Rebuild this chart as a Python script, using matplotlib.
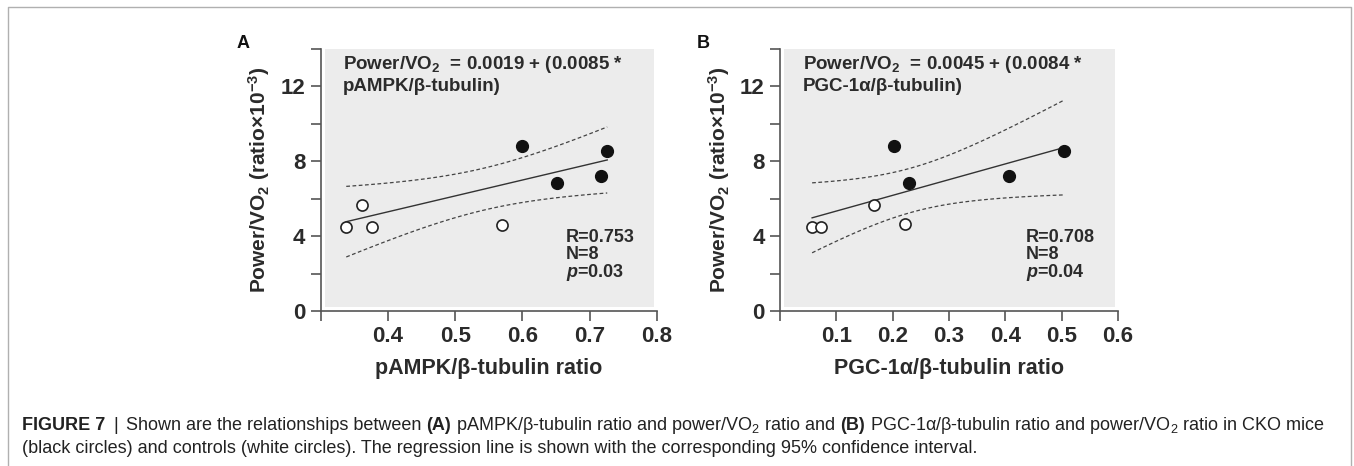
import numpy as np
import matplotlib
matplotlib.use("Agg")
import matplotlib.pyplot as plt
from matplotlib.patches import Rectangle
from matplotlib.lines import Line2D

plt.rcParams['font.family'] = ['Liberation Sans', 'DejaVu Sans']
plt.rcParams['mathtext.fontset'] = 'custom'
plt.rcParams['mathtext.rm'] = 'Liberation Sans'
plt.rcParams['mathtext.it'] = 'Liberation Sans:italic'
plt.rcParams['mathtext.bf'] = 'Liberation Sans:bold'
plt.rcParams['mathtext.bfit'] = 'Liberation Sans:italic:bold'

# panel A: pAMPK/beta-tubulin vs power/VO2 (ratio x 10^-3)
pampk_cko = [0.600, 0.652, 0.716, 0.726]
pampk_cko_y = [8.83, 6.83, 7.19, 8.56]
pampk_ctrl = [0.338, 0.361, 0.376, 0.570]
pampk_ctrl_y = [4.48, 5.67, 4.48, 4.62]
fit_a = (1.9, 8.5)       # intercept, slope (x10^-3)
stats_a = ("0.753", "8", "0.03")

# panel B: PGC-1alpha/beta-tubulin vs power/VO2
pgc_cko = [0.202, 0.229, 0.406, 0.505]
pgc_cko_y = [8.83, 6.83, 7.19, 8.56]
pgc_ctrl = [0.057, 0.072, 0.167, 0.222]
pgc_ctrl_y = [4.48, 4.48, 5.67, 4.65]
fit_b = (4.5, 8.4)
stats_b = ("0.708", "8", "0.04")

TXT = '#2b2b2b'
SPINE = '#555555'


def draw_panel(ax, x_cko, y_cko, x_ctrl, y_ctrl, fit, stats, xlim, xticks, xlabel, eq1, eq2):
    xs = np.array(x_cko + x_ctrl)
    ys = np.array(y_cko + y_ctrl)
    b0, b1 = fit
    n = len(xs)
    # regression line and 95% confidence band
    xx = np.linspace(xs.min(), xs.max(), 100)
    yy = b0 + b1 * xx
    resid = ys - (b0 + b1 * xs)
    s = np.sqrt(np.sum(resid ** 2) / (n - 2))
    sxx = np.sum((xs - xs.mean()) ** 2)
    half = 2.447 * s * np.sqrt(1.0 / n + (xx - xs.mean()) ** 2 / sxx)

    ax.add_patch(Rectangle((0.012, 0.014), 0.978, 0.986, transform=ax.transAxes,
                           facecolor='#ececec', edgecolor='none', zorder=0))
    ax.plot(xx, yy, color='#333333', lw=1.0, zorder=2)
    ax.plot(xx, yy + half, color='#444444', lw=0.9, dashes=(3, 2), zorder=2)
    ax.plot(xx, yy - half, color='#444444', lw=0.9, dashes=(3, 2), zorder=2)
    ax.plot(x_ctrl, y_ctrl, 'o', ms=8, mfc='white', mec='#222222', mew=1.2, zorder=3)
    ax.plot(x_cko, y_cko, 'o', ms=8.5, mfc='#111111', mec='#111111', zorder=3)

    ax.set_xlim(*xlim)
    ax.set_ylim(0, 14)
    ax.set_xticks(xticks)
    ax.set_xticklabels([''] + [f'{t:g}' for t in xticks[1:]])
    ax.set_yticks(np.arange(0, 15, 2))
    ax.set_yticklabels([f'{t:g}' if t % 4 == 0 else '' for t in np.arange(0, 15, 2)])
    for sp in ['top', 'right']:
        ax.spines[sp].set_visible(False)
    for sp in ['left', 'bottom']:
        ax.spines[sp].set_color(SPINE)
        ax.spines[sp].set_linewidth(1.2)
    ax.tick_params(length=7, width=1.2, color=SPINE, labelsize=16, labelcolor=TXT, pad=4)
    for lab in ax.get_xticklabels() + ax.get_yticklabels():
        lab.set_fontweight('bold')
    ax.set_xlabel(xlabel, fontsize=15.5, fontweight='bold', color=TXT, labelpad=8)
    ax.set_ylabel(r'Power/VO$_\mathbf{2}$ (ratio×10$^{\mathbf{-3}}$)', fontsize=15,
                  fontweight='bold', color=TXT, labelpad=6)

    ax.text(0.067, 0.925, eq1, transform=ax.transAxes, fontsize=13.5, fontweight='bold', color=TXT)
    ax.text(0.067, 0.838, eq2, transform=ax.transAxes, fontsize=13.5, fontweight='bold', color=TXT)
    r, nn, p = stats
    sx = 0.728
    ax.text(sx, 0.265, f'R={r}', transform=ax.transAxes, fontsize=13, fontweight='bold', color=TXT)
    ax.text(sx, 0.198, f'N={nn}', transform=ax.transAxes, fontsize=13, fontweight='bold', color=TXT)
    ax.text(sx, 0.130, r'$\mathbfit{p}$' + f'={p}', transform=ax.transAxes, fontsize=13,
            fontweight='bold', color=TXT)


fig = plt.figure(figsize=(13.54, 4.66), dpi=100)
W, H = 1354, 466

ax_a = fig.add_axes([320.7 / W, 1 - 311 / H, 336.3 / W, 262 / H])
ax_b = fig.add_axes([780 / W, 1 - 311 / H, 338 / W, 262 / H])

draw_panel(ax_a, pampk_cko, pampk_cko_y, pampk_ctrl, pampk_ctrl_y, fit_a, stats_a, (0.3, 0.8),
           [0.3, 0.4, 0.5, 0.6, 0.7, 0.8], 'pAMPK/β-tubulin ratio',
           r'Power/VO$_\mathbf{2}$  = 0.0019 + (0.0085 *', 'pAMPK/β-tubulin)')
draw_panel(ax_b, pgc_cko, pgc_cko_y, pgc_ctrl, pgc_ctrl_y, fit_b, stats_b, (0.0, 0.6),
           [0.0, 0.1, 0.2, 0.3, 0.4, 0.5, 0.6], 'PGC-1α/β-tubulin ratio',
           r'Power/VO$_\mathbf{2}$  = 0.0045 + (0.0084 *', 'PGC-1α/β-tubulin)')

fig.text(243 / W, 1 - 43 / H, 'A', fontsize=13, fontweight='bold', color='#111111',
         ha='center', va='center')
fig.text(703 / W, 1 - 43 / H, 'B', fontsize=13, fontweight='bold', color='#111111',
         ha='center', va='center')

# light frame around figure (no bottom edge)
fig.add_artist(Line2D([8 / W, 8 / W, 1351 / W, 1351 / W], [0, 1 - 7 / H, 1 - 7 / H, 0],
                      transform=fig.transFigure, color='#b0b0b0', lw=1.0))

# caption with mixed weights
renderer = fig.canvas.get_renderer()
cap_size = 13.0
t1 = fig.text(0, 0, 'x x', fontsize=cap_size)
t2 = fig.text(0, 0, 'xx', fontsize=cap_size)
space_w = t1.get_window_extent(renderer).width - t2.get_window_extent(renderer).width
t1.remove()
t2.remove()


def caption_line(x_px, y_px, pieces):
    for s, weight, gap in pieces:
        t = fig.text(x_px / W, 1 - y_px / H, s, fontsize=cap_size, fontweight=weight,
                     color='#222222', va='baseline')
        x_px += t.get_window_extent(renderer).width + space_w * gap


caption_line(22, 430, [
    ('FIGURE 7', 'bold', 1.6), ('|', 'normal', 1.6),
    ('Shown are the relationships between', 'normal', 1), ('(A)', 'bold', 1),
    ('pAMPK/β-tubulin ratio and power/VO$_2$ ratio and', 'normal', 1), ('(B)', 'bold', 1),
    ('PGC-1α/β-tubulin ratio and power/VO$_2$ ratio in CKO mice', 'normal', 1),
])
caption_line(22, 453, [
    ('(black circles) and controls (white circles). The regression line is shown with the '
     'corresponding 95% confidence interval.', 'normal', 0),
])

fig.savefig('out.png', dpi=100)
